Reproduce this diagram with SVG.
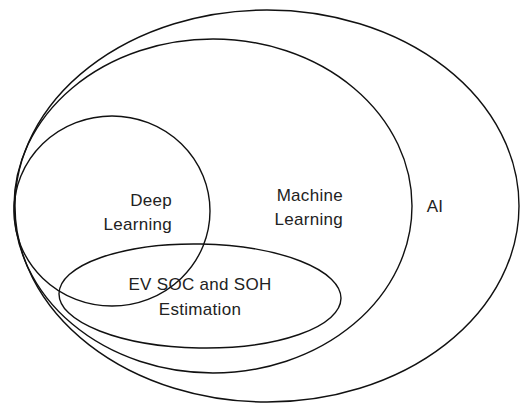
<svg xmlns="http://www.w3.org/2000/svg" width="520" height="403" viewBox="0 0 520 403">
<style>
.s{fill:none;stroke:#111;stroke-width:1.4}
.t{font-family:"Liberation Sans",Arial,sans-serif;font-size:17px;letter-spacing:0.3px;fill:#222}
</style>
<rect width="520" height="403" fill="#fff"/>
<g id="ai"><ellipse class="s" cx="267" cy="206" rx="252" ry="196"/><text class="t" x="435" y="212" text-anchor="middle">AI</text></g>
<g id="ml"><ellipse class="s" cx="213" cy="206" rx="199" ry="167"/><text class="t" x="343" y="201" text-anchor="end">Machine</text><text class="t" x="343" y="225" text-anchor="end">Learning</text></g>
<g id="dl"><ellipse class="s" cx="112" cy="211" rx="98" ry="95"/><text class="t" x="172" y="206" text-anchor="end">Deep</text><text class="t" x="172" y="230" text-anchor="end">Learning</text></g>
<g id="ev"><ellipse class="s" cx="200" cy="296" rx="141" ry="52" transform="rotate(1 200 296)"/><text class="t" x="200" y="290" text-anchor="middle">EV SOC and SOH</text><text class="t" x="200" y="315" text-anchor="middle">Estimation</text></g>
<g id="connectors"/>
</svg>
